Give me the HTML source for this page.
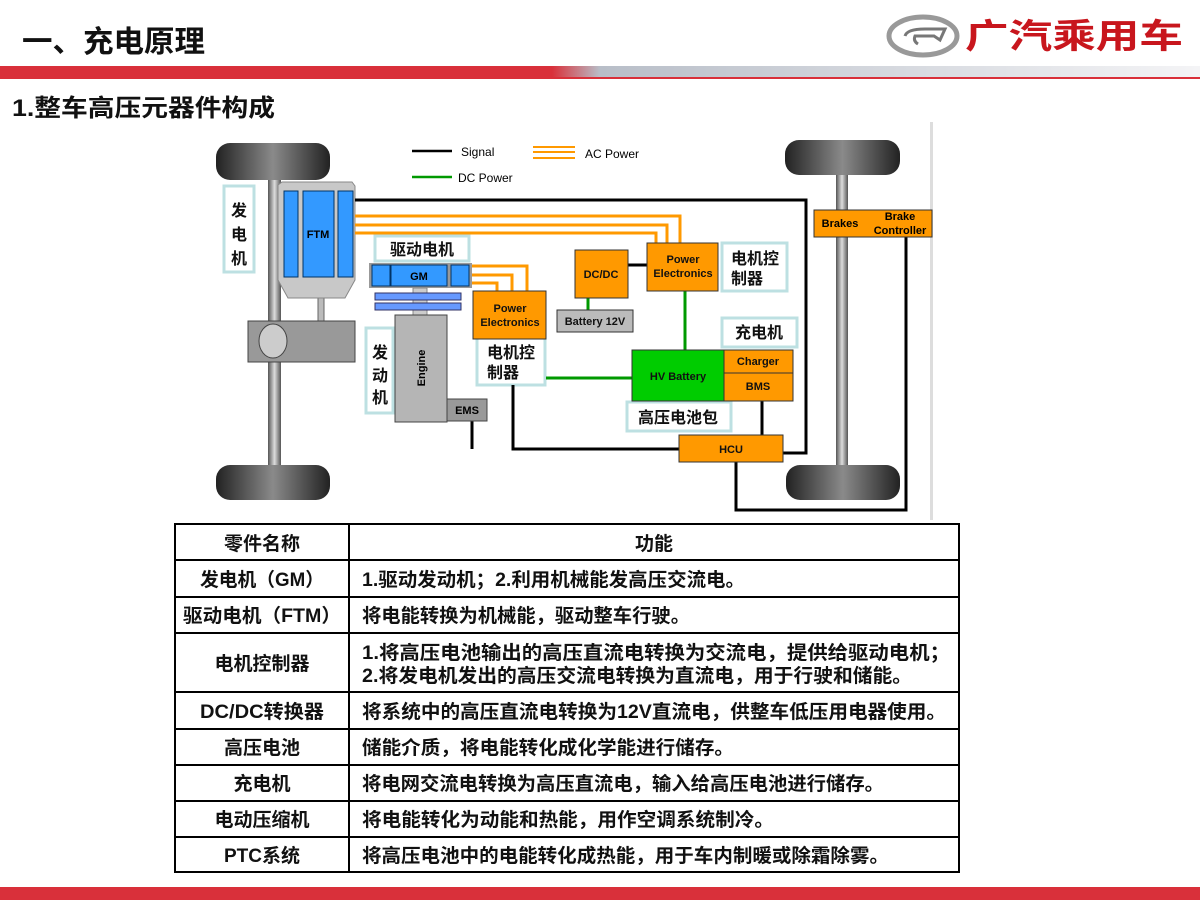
<!DOCTYPE html>
<html><head><meta charset="utf-8"><style>
html,body{margin:0;padding:0;background:#fff;width:1200px;height:900px;overflow:hidden}
svg text{font-family:"Liberation Sans","Noto Sans CJK SC",sans-serif}
</style></head><body>
<svg width="1200" height="900" viewBox="0 0 1200 900" xmlns="http://www.w3.org/2000/svg">
<defs>
<linearGradient id="band" x1="0" x2="1" y1="0" y2="0">
<stop offset="0" stop-color="#d9303a"/><stop offset="0.46" stop-color="#d9303a"/><stop offset="0.5" stop-color="#b8bec8"/><stop offset="1" stop-color="#f4f4f6"/></linearGradient>
<linearGradient id="tire" x1="0" x2="1"><stop offset="0" stop-color="#222"/><stop offset="0.5" stop-color="#8a8a8a"/><stop offset="1" stop-color="#222"/></linearGradient>
<linearGradient id="axle" x1="0" x2="1"><stop offset="0" stop-color="#555"/><stop offset="0.5" stop-color="#ddd"/><stop offset="1" stop-color="#555"/></linearGradient>
</defs>
<text x="22" y="52" font-size="30" font-weight="bold" fill="#111" textLength="183" lengthAdjust="spacingAndGlyphs">一、充电原理</text>
<ellipse cx="923" cy="36" rx="34" ry="19" fill="none" stroke="#999" stroke-width="5"/>
<path d="M905 36 Q907 29 925 29 L945 29 L940 40 L934 36 L915 36 Q913 41 918 44" fill="none" stroke="#777" stroke-width="3"/>
<text x="965" y="48" font-size="34" font-weight="bold" fill="#c8161d" textLength="218" lengthAdjust="spacingAndGlyphs">广汽乘用车</text>
<rect x="0" y="66" width="1200" height="11" fill="url(#band)"/>
<rect x="0" y="77" width="1200" height="2" fill="#d9303a"/>
<text x="12" y="116" font-size="24" font-weight="bold" fill="#111" textLength="263" lengthAdjust="spacingAndGlyphs">1.整车高压元器件构成</text>
<rect x="930" y="122" width="3" height="398" fill="#ddd"/>
<line x1="412" y1="151" x2="452" y2="151" stroke="#000" stroke-width="2.5"/>
<text x="461" y="156" font-size="12">Signal</text>
<g stroke="#f90" stroke-width="2"><line x1="533" y1="147" x2="575" y2="147"/><line x1="533" y1="152" x2="575" y2="152"/><line x1="533" y1="158" x2="575" y2="158"/></g>
<text x="585" y="158" font-size="12">AC Power</text>
<line x1="412" y1="177" x2="452" y2="177" stroke="#090" stroke-width="2.5"/>
<text x="458" y="182" font-size="12">DC Power</text>
<rect x="268" y="175" width="13" height="295" fill="url(#axle)"/>
<rect x="216" y="143" width="114" height="37" rx="14" fill="url(#tire)"/>
<rect x="216" y="465" width="114" height="35" rx="14" fill="url(#tire)"/>
<rect x="318" y="295" width="6" height="28" fill="#bbb" stroke="#666"/>
<path d="M278 185 L282 182 L352 182 L355 186 L355 280 L345 298 L288 298 L278 280Z" fill="#c8c8c8" stroke="#888"/>
<rect x="284" y="191" width="14" height="86" fill="#3399ff" stroke="#036"/>
<rect x="303" y="191" width="31" height="86" fill="#3399ff" stroke="#036"/>
<rect x="338" y="191" width="15" height="86" fill="#3399ff" stroke="#036"/>
<text x="318" y="238" font-size="11" font-weight="bold" text-anchor="middle">FTM</text>
<rect x="248" y="321" width="107" height="41" fill="#999" stroke="#444"/>
<ellipse cx="273" cy="341" rx="14" ry="17" fill="#ccc" stroke="#444"/>
<g fill="#fff" stroke="#bde0e2" stroke-width="3">
<rect x="224" y="186" width="30" height="86"/>
<rect x="375" y="236" width="94" height="25"/>
<rect x="366" y="328" width="27" height="85"/>
<rect x="477" y="337" width="68" height="48"/>
<rect x="722" y="243" width="65" height="48"/>
<rect x="722" y="318" width="75" height="29"/>
<rect x="627" y="402" width="104" height="29"/>
</g>
<g font-size="16" font-weight="bold" fill="#111">
<text x="239" y="216" text-anchor="middle">发</text><text x="239" y="240" text-anchor="middle">电</text><text x="239" y="264" text-anchor="middle">机</text>
<text x="422" y="255" text-anchor="middle">驱动电机</text>
<text x="380" y="358" text-anchor="middle">发</text><text x="380" y="381" text-anchor="middle">动</text><text x="380" y="403" text-anchor="middle">机</text>
<text x="487" y="358">电机控</text><text x="487" y="378">制器</text>
<text x="731" y="264">电机控</text><text x="731" y="284">制器</text>
<text x="735" y="338">充电机</text>
<text x="638" y="423">高压电池包</text>
</g>
<g fill="none" stroke="#000" stroke-width="3">
<polyline points="355,200 806,200 806,453 783,453"/>
<line x1="628" y1="265" x2="647" y2="265"/>
<polyline points="513,385 513,449 679,449"/>
<polyline points="472,421 472,449"/>
<line x1="762" y1="401" x2="762" y2="435"/>
<polyline points="736,462 736,510 906,510 906,237"/>
</g>
<g fill="none" stroke="#f90" stroke-width="3">
<polyline points="355,216 680,216 680,243"/>
<polyline points="355,225 667,225 667,243"/>
<polyline points="355,233 656,233 656,243"/>
<polyline points="472,266 527,266 527,291"/>
<polyline points="472,275 512,275 512,291"/>
<polyline points="472,283 497,283 497,291"/>
</g>
<g stroke="#090" stroke-width="3">
<line x1="588" y1="298" x2="588" y2="310"/>
<line x1="685" y1="291" x2="685" y2="350"/>
<line x1="546" y1="378" x2="632" y2="378"/>
</g>
<rect x="369" y="263" width="103" height="25" fill="#999"/>
<rect x="372" y="265" width="18" height="21" fill="#3399ff" stroke="#036"/>
<rect x="391" y="265" width="56" height="21" fill="#3399ff" stroke="#036"/>
<rect x="451" y="265" width="18" height="21" fill="#3399ff" stroke="#036"/>
<text x="419" y="280" font-size="11" font-weight="bold" text-anchor="middle">GM</text>
<rect x="413" y="288" width="14" height="28" fill="#ccc" stroke="#888"/>
<rect x="375" y="293" width="86" height="7" fill="#6699ff" stroke="#336"/>
<rect x="375" y="303" width="86" height="7" fill="#6699ff" stroke="#336"/>
<rect x="395" y="315" width="52" height="107" fill="#b5b5b5" stroke="#444"/>
<text transform="translate(425,368) rotate(-90)" font-size="11" font-weight="bold" text-anchor="middle">Engine</text>
<rect x="447" y="399" width="40" height="22" fill="#999" stroke="#444"/>
<text x="467" y="414" font-size="11" font-weight="bold" text-anchor="middle">EMS</text>
<g stroke="#333" stroke-width="1">
<rect x="473" y="291" width="73" height="48" fill="#f90"/>
<rect x="575" y="250" width="53" height="48" fill="#f90"/>
<rect x="647" y="243" width="71" height="48" fill="#f90"/>
<rect x="557" y="310" width="76" height="22" fill="#bbb"/>
<rect x="632" y="350" width="92" height="51" fill="#0c0"/>
<rect x="724" y="350" width="69" height="23" fill="#f90"/>
<rect x="724" y="373" width="69" height="28" fill="#f90"/>
<rect x="679" y="435" width="104" height="27" fill="#f90"/>
</g>
<g font-size="11" font-weight="bold" fill="#111" text-anchor="middle">
<text x="510" y="312">Power</text><text x="510" y="326">Electronics</text>
<text x="601" y="278">DC/DC</text>
<text x="683" y="263">Power</text><text x="683" y="277">Electronics</text>
<text x="595" y="325">Battery 12V</text>
<text x="678" y="380">HV Battery</text>
<text x="758" y="365">Charger</text>
<text x="758" y="390">BMS</text>
<text x="731" y="453">HCU</text>
</g>
<rect x="836" y="170" width="12" height="300" fill="url(#axle)"/>
<rect x="785" y="140" width="115" height="35" rx="14" fill="url(#tire)"/>
<rect x="786" y="465" width="114" height="35" rx="14" fill="url(#tire)"/>
<rect x="814" y="210" width="118" height="27" fill="#f90" stroke="#333"/>
<text x="840" y="227" font-size="11" font-weight="bold" text-anchor="middle">Brakes</text>
<text x="900" y="220" font-size="11" font-weight="bold" text-anchor="middle">Brake</text>
<text x="900" y="234" font-size="11" font-weight="bold" text-anchor="middle">Controller</text>
<g stroke="#000" stroke-width="2" fill="none">
<rect x="175" y="524" width="784" height="348"/>
<line x1="349" y1="524" x2="349" y2="872"/>
<line x1="175" y1="560" x2="959" y2="560"/><line x1="175" y1="597" x2="959" y2="597"/>
<line x1="175" y1="633" x2="959" y2="633"/><line x1="175" y1="692" x2="959" y2="692"/>
<line x1="175" y1="729" x2="959" y2="729"/><line x1="175" y1="765" x2="959" y2="765"/>
<line x1="175" y1="801" x2="959" y2="801"/><line x1="175" y1="837" x2="959" y2="837"/>
</g>
<g font-size="19" font-weight="bold" fill="#111">
<g text-anchor="middle">
<text x="262" y="550">零件名称</text><text x="654" y="550">功能</text>
<text x="262" y="586" textLength="124" lengthAdjust="spacingAndGlyphs">发电机（GM）</text>
<text x="262" y="622" textLength="158" lengthAdjust="spacingAndGlyphs">驱动电机（FTM）</text>
<text x="262" y="670">电机控制器</text>
<text x="262" y="718" textLength="124" lengthAdjust="spacingAndGlyphs">DC/DC转换器</text>
<text x="262" y="754">高压电池</text>
<text x="262" y="790">充电机</text>
<text x="262" y="826">电动压缩机</text>
<text x="262" y="862">PTC系统</text>
</g>
<text x="362" y="586" textLength="383" lengthAdjust="spacingAndGlyphs">1.驱动发动机；2.利用机械能发高压交流电。</text>
<text x="362" y="622" textLength="328" lengthAdjust="spacingAndGlyphs">将电能转换为机械能，驱动整车行驶。</text>
<text x="362" y="659" textLength="588" lengthAdjust="spacingAndGlyphs">1.将高压电池输出的高压直流电转换为交流电，提供给驱动电机；</text>
<text x="362" y="682" textLength="550" lengthAdjust="spacingAndGlyphs">2.将发电机发出的高压交流电转换为直流电，用于行驶和储能。</text>
<text x="362" y="718" textLength="584" lengthAdjust="spacingAndGlyphs">将系统中的高压直流电转换为12V直流电，供整车低压用电器使用。</text>
<text x="362" y="754" textLength="372" lengthAdjust="spacingAndGlyphs">储能介质，将电能转化成化学能进行储存。</text>
<text x="362" y="790" textLength="522" lengthAdjust="spacingAndGlyphs">将电网交流电转换为高压直流电，输入给高压电池进行储存。</text>
<text x="362" y="826" textLength="412" lengthAdjust="spacingAndGlyphs">将电能转化为动能和热能，用作空调系统制冷。</text>
<text x="362" y="862" textLength="527" lengthAdjust="spacingAndGlyphs">将高压电池中的电能转化成热能，用于车内制暖或除霜除雾。</text>
</g>
<rect x="0" y="887" width="1200" height="13" fill="#d9303a"/>
</svg>
</body></html>
